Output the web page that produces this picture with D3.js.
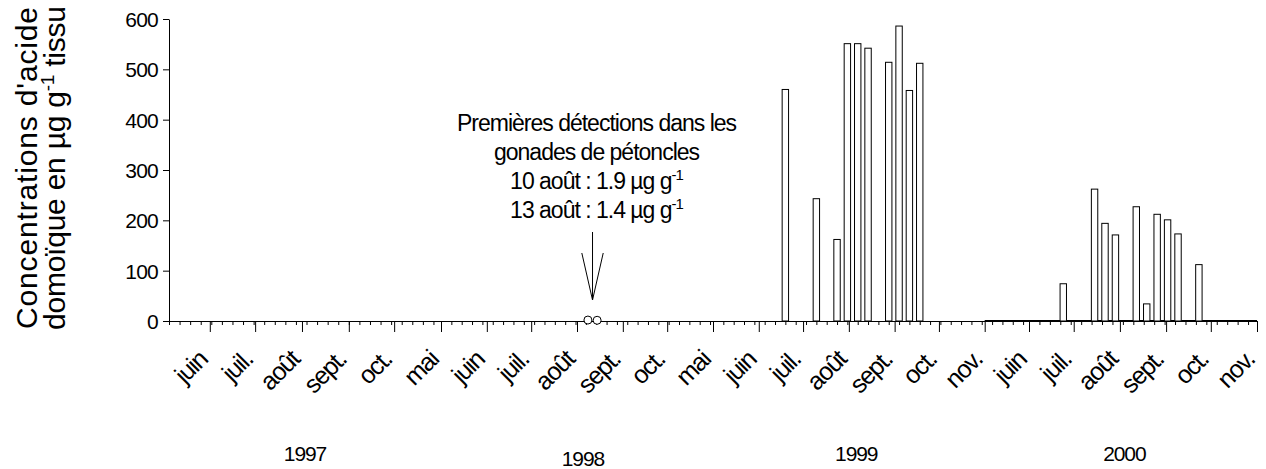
<!DOCTYPE html>
<html lang="fr">
<head>
<meta charset="utf-8">
<script src="https://cdn.jsdelivr.net/npm/d3@7"></script>
<style>
  html, body { margin: 0; padding: 0; background: #fff; }
  svg { display: block; font-family: "Liberation Sans", Arial, sans-serif; }
</style>
</head>
<body>
<svg id="chart" width="1266" height="469"></svg>
<script>
// ---- Data ---------------------------------------------------------------
// Sampling seasons laid end to end on the time axis
const seasonStarts = ["1997-05-05", "1998-05-01", "1999-05-01", "2000-06-01"];
const seasonEnds   = ["1997-11-01", "1998-11-01", "1999-12-01", "2000-11-01"];
const seasonYears  = ["1997", "1998", "1999", "2000"];

// Month ticks and their labels
const monthDates = [
  "1997-06-01", "1997-07-01", "1997-08-01", "1997-09-01", "1997-10-01",
  "1998-05-01", "1998-06-01", "1998-07-01", "1998-08-01", "1998-09-01", "1998-10-01",
  "1999-05-01", "1999-06-01", "1999-07-01", "1999-08-01", "1999-09-01", "1999-10-01", "1999-11-01",
  "2000-06-01", "2000-07-01", "2000-08-01", "2000-09-01", "2000-10-01", "2000-11-01"
];
const monthLabels = [
  "juin", "juil.", "août", "sept.", "oct.",
  "mai", "juin", "juil.", "août", "sept.", "oct.",
  "mai", "juin", "juil.", "août", "sept.", "oct.", "nov.",
  "juin", "juil.", "août", "sept.", "oct.", "nov."
];

// Weekly domoic acid concentrations (µg g-1 tissue)
const dates1999  = ["1999-06-19", "1999-07-10", "1999-07-24", "1999-07-31", "1999-08-07",
                    "1999-08-14", "1999-08-28", "1999-09-04", "1999-09-11", "1999-09-18"];
const values1999 = [460, 243, 162, 551, 551, 542, 514, 586, 458, 512];

const dates2000  = ["2000-06-24", "2000-07-15", "2000-07-22", "2000-07-29", "2000-08-12",
                    "2000-08-19", "2000-08-26", "2000-09-02", "2000-09-09", "2000-09-23"];
const values2000 = [74, 262, 194, 171, 227, 34, 212, 201, 173, 112];

// Period monitored with no detectable toxin
const nonDetectDates  = ["1999-11-01", "2000-11-01"];
const nonDetectValues = [0, 0];

// First detections in scallop gonads (1998)
const firstDates  = ["1998-08-10", "1998-08-13"];
const firstValues = [1.9, 1.4];

const yTicks = [0, 100, 200, 300, 400, 500, 600];

// ---- Layout -------------------------------------------------------------
const plot = { left: 169, right: 1257, top: 19, bottom: 321 };
// pixel positions of the season boundaries along the axis
const seasonEdges = [169, 441, 713, 1029, 1257];
const yearLabelAt = ["1997-08-03", "1998-08-05", "1999-08-06", "2000-08-04"];
const yearLabelY  = [461, 466, 461, 461];
const FONT = "'Liberation Sans', Arial, sans-serif";
const INK = "#000";

const parse = d3.timeParse("%Y-%m-%d");
const svg = d3.select("#chart");

// ---- Scales -------------------------------------------------------------
const xDomain = [], xRange = [];
seasonStarts.forEach((s, i) => {
  xDomain.push(parse(s), parse(seasonEnds[i]));
  xRange.push(seasonEdges[i], seasonEdges[i + 1]);
});
const x = d3.scaleTime().domain(xDomain).range(xRange);
const y = d3.scaleLinear().domain([0, 600]).range([plot.bottom, plot.top]);

// ---- Y axis -------------------------------------------------------------
const yAxis = svg.append("g")
  .attr("transform", `translate(${plot.left},0)`)
  .call(d3.axisLeft(y).tickValues(yTicks).tickSize(6).tickPadding(5).tickSizeOuter(0));
yAxis.select(".domain").attr("stroke", INK);
yAxis.selectAll(".tick line").attr("stroke", INK);
yAxis.selectAll(".tick text")
  .attr("font-family", FONT).attr("font-size", 21).attr("letter-spacing", -0.8)
  .attr("fill", INK).attr("dy", "0.36em");

// ---- X axis: weekly minor ticks, monthly major ticks -------------------
const minorTicks = [];
seasonStarts.forEach((s, i) => {
  const end = parse(seasonEnds[i]);
  for (let t = parse(s); t < end; t = d3.timeDay.offset(t, 7)) minorTicks.push(t);
});
const xMinor = svg.append("g")
  .attr("transform", `translate(0,${plot.bottom})`)
  .call(d3.axisBottom(x).tickValues(minorTicks).tickSize(4).tickFormat("").tickSizeOuter(0));
xMinor.select(".domain").attr("stroke", INK);
xMinor.selectAll(".tick line").attr("stroke", INK);

const majorTicks = monthDates.map(parse);
const xMajor = svg.append("g")
  .attr("transform", `translate(0,${plot.bottom})`)
  .call(d3.axisBottom(x).tickValues(majorTicks).tickSize(11).tickFormat("").tickSizeOuter(0));
xMajor.select(".domain").remove();
xMajor.selectAll(".tick line").attr("stroke", INK);

// rotated month names
svg.append("g").selectAll("text")
  .data(majorTicks)
  .join("text")
  .attr("transform", d => `translate(${x(d) - 1},${plot.bottom + 40}) rotate(-45)`)
  .attr("text-anchor", "end")
  .attr("font-family", FONT).attr("font-size", 25).attr("letter-spacing", -1.3)
  .attr("fill", INK)
  .text((d, i) => monthLabels[i]);

// season years
svg.append("g").selectAll("text")
  .data(seasonYears)
  .join("text")
  .attr("x", (d, i) => x(parse(yearLabelAt[i])))
  .attr("y", (d, i) => yearLabelY[i])
  .attr("text-anchor", "middle")
  .attr("font-family", FONT).attr("font-size", 21).attr("letter-spacing", -1.1)
  .attr("fill", INK)
  .text(d => d);

// ---- Marks --------------------------------------------------------------
const barW = 6.4;
const bars = dates1999.map((d, i) => ({ date: parse(d), value: values1999[i] }))
  .concat(dates2000.map((d, i) => ({ date: parse(d), value: values2000[i] })));

// non-detect series runs just above the zero baseline
const zeroLine = d3.line()
  .x(d => x(d.date))
  .y(d => y(d.value) - 0.5);
svg.append("path")
  .datum(nonDetectDates.map((d, i) => ({ date: parse(d), value: nonDetectValues[i] })))
  .attr("d", zeroLine)
  .attr("fill", "none").attr("stroke", INK).attr("stroke-width", 1);

svg.append("g").selectAll("rect")
  .data(bars)
  .join("rect")
  .attr("x", d => x(d.date) - barW / 2)
  .attr("y", d => y(d.value))
  .attr("width", barW)
  .attr("height", d => y(0) - y(d.value))
  .attr("fill", "#fff")
  .attr("stroke", INK)
  .attr("stroke-width", 1);

// first detections: open circles, nudged apart so they do not overlap
const r = 4;
const firstX = firstDates.map(d => x(parse(d)));
const firstMid = d3.mean(firstX);
const firstPts = firstValues.map((v, i) => ({
  cx: firstMid + (i - (firstValues.length - 1) / 2) * (2 * r + 1.2),
  cy: y(v)
}));
svg.append("g").selectAll("circle")
  .data(firstPts)
  .join("circle")
  .attr("cx", d => d.cx).attr("cy", d => d.cy).attr("r", r)
  .attr("fill", "#fff").attr("stroke", INK).attr("stroke-width", 1);

// ---- Annotation -----------------------------------------------------------
const ax = firstMid;
const tipY = 300, tailY = 232, headY = 253, headHalf = 10.7;
svg.append("line")
  .attr("x1", ax).attr("x2", ax).attr("y1", tailY).attr("y2", tipY)
  .attr("stroke", INK).attr("stroke-width", 1);
svg.append("path")
  .attr("d", `M${ax - headHalf},${headY}L${ax},${tipY}L${ax + headHalf},${headY}`)
  .attr("fill", "none").attr("stroke", INK).attr("stroke-width", 1);

const noteX = ax + 4;
const note = svg.append("g")
  .attr("font-family", FONT).attr("font-size", 23).attr("letter-spacing", -1)
  .attr("fill", INK).attr("text-anchor", "middle");
note.append("text").attr("x", noteX).attr("y", 131).text("Premières détections dans les");
note.append("text").attr("x", noteX).attr("y", 160).text("gonades de pétoncles");
const fmt = d3.format(".1f");
["10 août", "13 août"].forEach((lab, i) => {
  const t = note.append("text").attr("x", noteX).attr("y", 189 + i * 29);
  t.append("tspan").text(`${lab} : ${fmt(firstValues[i])} µg g`);
  t.append("tspan").attr("dy", -9).attr("font-size", 15).text("-1");
});

// ---- Y axis title -----------------------------------------------------------
const yTitle = svg.append("g")
  .attr("font-family", FONT).attr("font-size", 30).attr("fill", INK)
  .attr("text-anchor", "middle");
yTitle.append("text")
  .attr("transform", "translate(37,168) rotate(-90)")
  .attr("textLength", 322).attr("lengthAdjust", "spacing")
  .text("Concentrations d'acide");
const t2 = yTitle.append("text")
  .attr("transform", "translate(65,168) rotate(-90)")
  .attr("textLength", 324).attr("lengthAdjust", "spacing");
t2.append("tspan").text("domoïque en µg g");
t2.append("tspan").attr("dy", -11).attr("font-size", 19).text("-1");
t2.append("tspan").attr("dy", 11).text(" tissu");
</script>
</body>
</html>
